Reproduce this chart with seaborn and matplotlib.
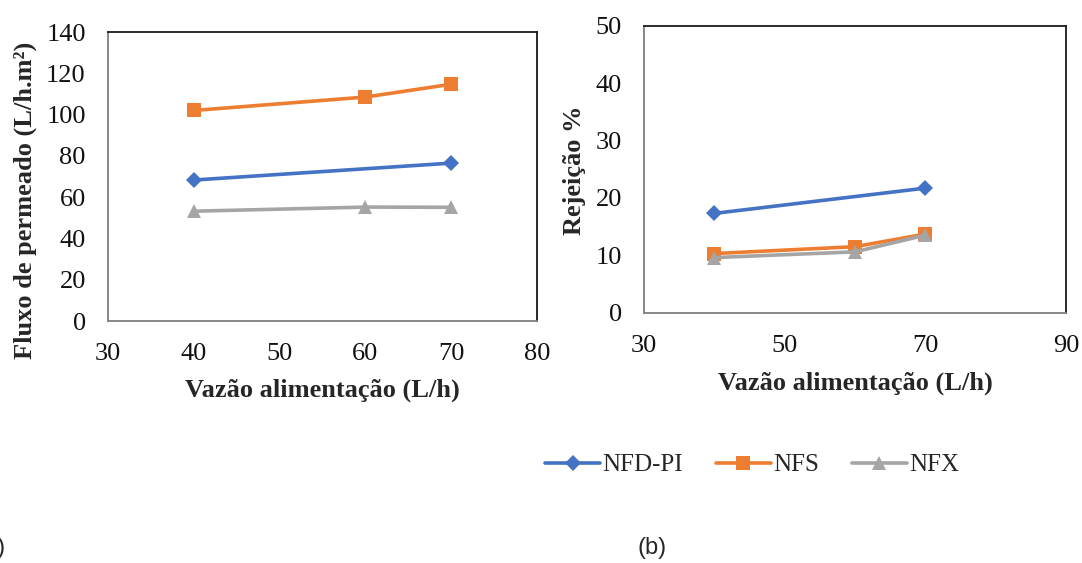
import numpy as np
import pandas as pd
import matplotlib
matplotlib.use("Agg")
import matplotlib.pyplot as plt
import seaborn as sns

# Feed flow rate (L/h)
flow = [40, 60, 70]
flow_pi = [40, 70]

# (a) permeate flux (L/h.m2)
flux_nfdpi = [68.3, 76.5]
flux_nfs = [102.0, 108.5, 114.7]
flux_nfx = [53.2, 55.2, 55.1]

# (b) rejection (%)
rej_nfdpi = [17.3, 21.7]
rej_nfs = [10.3, 11.5, 13.7]
rej_nfx = [9.6, 10.6, 13.5]

names = ["NFD-PI", "NFS", "NFX"]
colors = {"NFD-PI": "#4472C4", "NFS": "#ED7D31", "NFX": "#A5A5A5"}
markers = {"NFD-PI": "D", "NFS": "s", "NFX": "^"}
msize = {"NFD-PI": 8.5, "NFS": 10, "NFX": 10.5}

sns.set_style("white")
plt.rcParams["font.family"] = ["Liberation Serif", "DejaVu Serif"]

fig = plt.figure(figsize=(10.82, 5.63), dpi=100)
ax1 = fig.add_axes([0.0998, 0.4298, 0.3965, 0.5133])
ax2 = fig.add_axes([0.5952, 0.4446, 0.3900, 0.5098])


def draw(ax, xs_list, ys_list):
    for name, xs, ys in zip(names, xs_list, ys_list):
        sns.lineplot(x=xs, y=ys, ax=ax, color=colors[name], marker=markers[name],
                     markersize=msize[name], markeredgewidth=0, linewidth=2.6,
                     label=name, legend=False)


draw(ax1, [flow_pi, flow, flow], [flux_nfdpi, flux_nfs, flux_nfx])
draw(ax2, [flow_pi, flow, flow], [rej_nfdpi, rej_nfs, rej_nfx])

ax1.set_xlim(30, 80)
ax1.set_ylim(0, 140)
ax1.set_xticks(np.arange(30, 81, 10))
ax1.set_yticks(np.arange(0, 141, 20))
ax2.set_xlim(30, 90)
ax2.set_ylim(0, 50)
ax2.set_xticks(np.arange(30, 91, 20))
ax2.set_yticks(np.arange(0, 51, 10))

for ax in (ax1, ax2):
    ax.set_xlabel("")
    ax.set_ylabel("")
    ax.tick_params(axis="both", length=0, labelsize=19, colors="#111111")
    ax.tick_params(axis="x", pad=16)
    ax.tick_params(axis="y", pad=16)
    for sp in ax.spines.values():
        sp.set_color("#1a1a1a")
        sp.set_linewidth(1.3)
    ax.spines["bottom"].set_color("#7f7f7f")
    ax.spines["left"].set_color("#7f7f7f")

W, H = 1082, 563
lab = dict(fontsize=19, fontweight="bold", ha="center", va="center")
fig.text(322 / W, 1 - 390 / H, "Vazão alimentação (L/h)", **lab)
fig.text(855 / W, 1 - 383 / H, "Vazão alimentação (L/h)", **lab)
fig.text(25 / W, 1 - 200 / H, "Fluxo de permeado (L/h.m²)", rotation=90, **lab)
fig.text(575 / W, 1 - 170 / H, "Rejeição %", rotation=90, **lab)

handles, labels = ax1.get_legend_handles_labels()
fig.legend(handles, labels, loc="center", bbox_to_anchor=(752 / W, 1 - 465 / H),
           ncol=3, frameon=False, fontsize=18, handlelength=2.2,
           handletextpad=0.1, columnspacing=1.3)

fig.text(-24 / W, 1 - 548 / H, "(a)", fontsize=17, ha="left", va="center",
         family=["Liberation Sans", "DejaVu Sans"])
fig.text(652 / W, 1 - 548 / H, "(b)", fontsize=17, ha="center", va="center",
         family=["Liberation Sans", "DejaVu Sans"])

fig.savefig("out.png", dpi=100)
